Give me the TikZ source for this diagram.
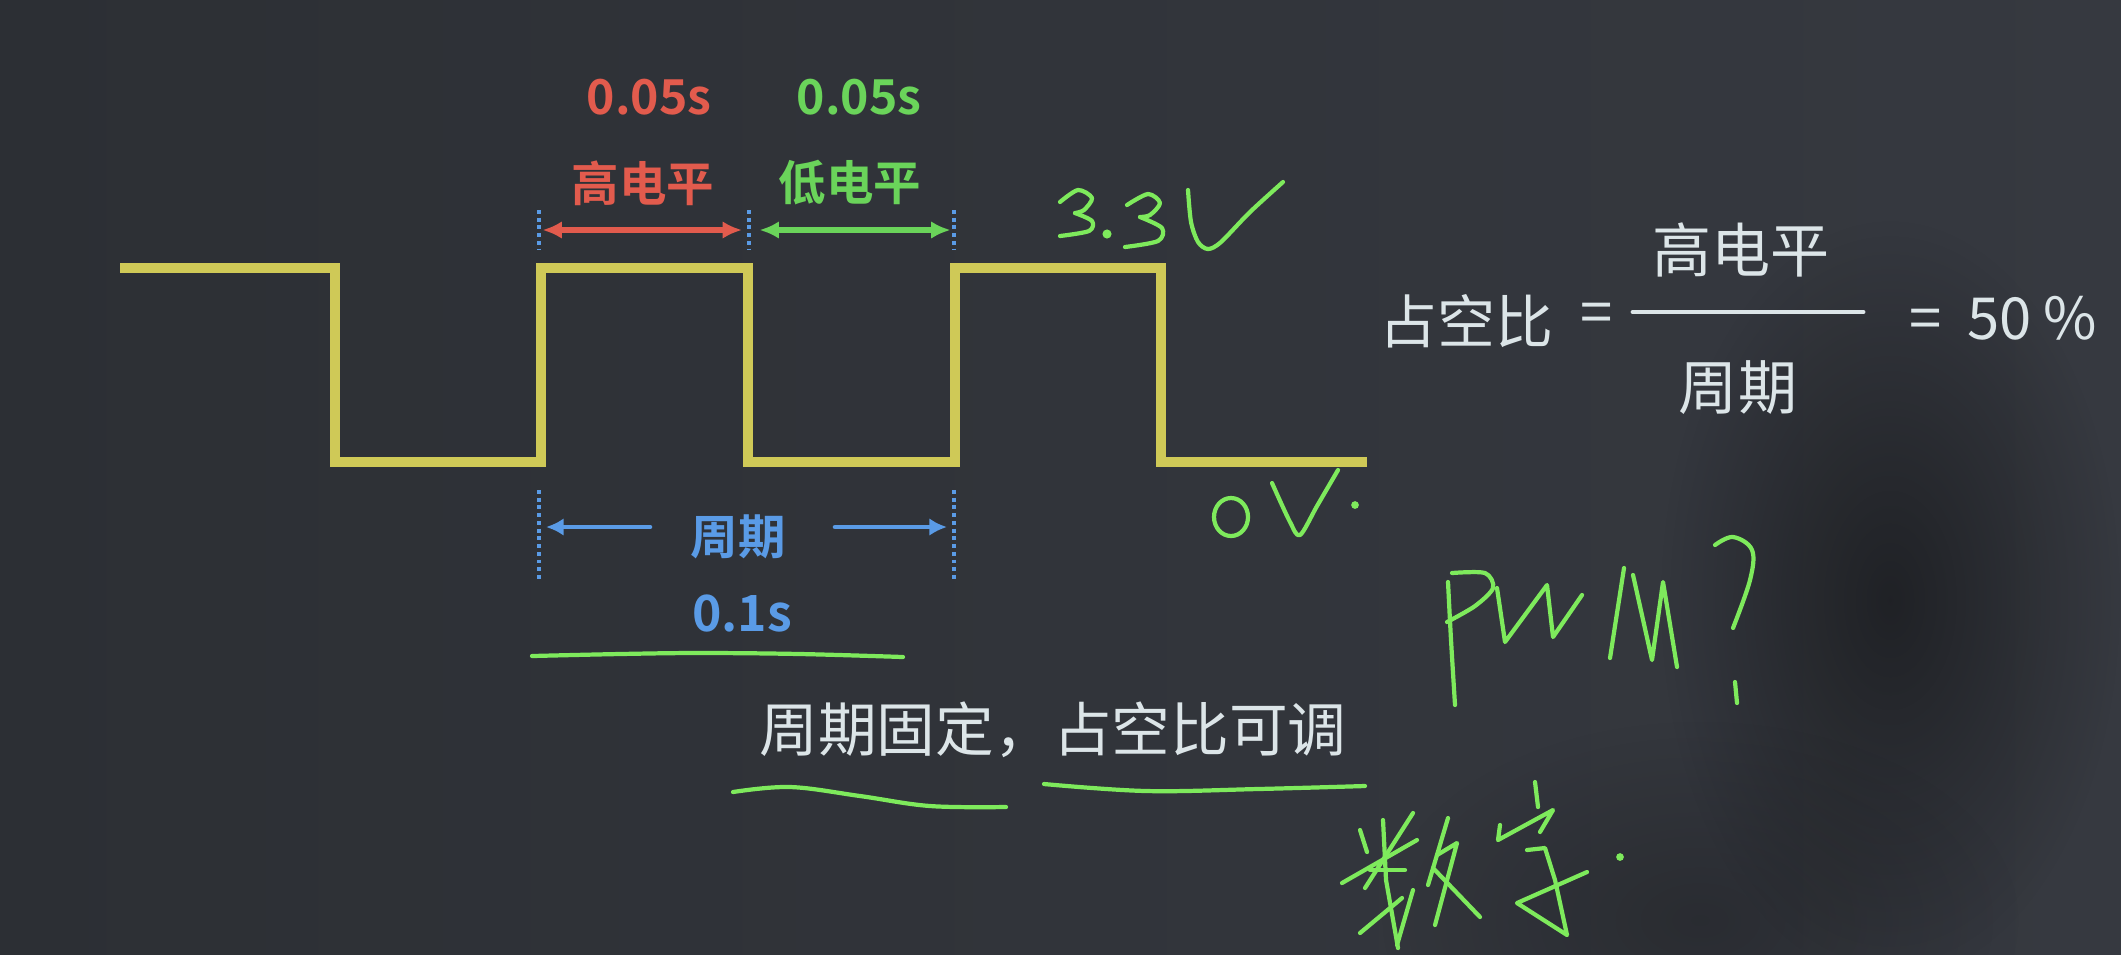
\documentclass[tikz,border=0pt]{standalone}
\usepackage{fontspec}
\setmainfont{Noto Sans CJK SC}[BoldFont={Noto Sans CJK SC Bold}]
\usetikzlibrary{arrows.meta,fadings}
\definecolor{boardBg}{HTML}{2C2F34}
\definecolor{boardBgR}{HTML}{363940}
\definecolor{waveYellow}{HTML}{CFC957}
\definecolor{levelRed}{HTML}{E25B4D}
\definecolor{levelGreen}{HTML}{6AD45A}
\definecolor{periodBlue}{HTML}{5A9BE6}
\definecolor{chalkWhite}{HTML}{DCE5E8}
\definecolor{penGreen}{HTML}{7EEA5C}
\tikzfading[name=softspot, inner color=transparent!0, outer color=transparent!100]
\tikzset{
    wave/.style={draw=waveYellow, line width=2.8pt, line cap=butt, line join=miter},
    tickline/.style={draw=periodBlue, line width=1.2pt, line cap=butt, dash pattern=on 1.1pt off 1.1pt},
    redarrow/.style={levelRed, line width=1.5pt, {Latex[length=5.5pt,width=5pt]}-{Latex[length=5.5pt,width=5pt]}},
    greenarrow/.style={levelGreen, line width=1.5pt, {Latex[length=5.5pt,width=5pt]}-{Latex[length=5.5pt,width=5pt]}},
    bluearrow/.style={periodBlue, line width=1.3pt, -{Latex[length=5pt,width=5pt]}},
    timelbl/.style={font=\bfseries\fontsize{13.7}{16}\selectfont},
    levellbl/.style={font=\bfseries\fontsize{13.5}{16}\selectfont},
    chalk/.style={text=chalkWhite, font=\fontsize{16.5}{19}\selectfont},
    pen/.style={draw=penGreen, line width=1.2pt, line cap=round, line join=round}
}
\begin{document}
\begin{tikzpicture}[x=0.1mm, y=-0.1mm, line cap=round, line join=round]
    \useasboundingbox (0,0) rectangle (2121,954);
    \begin{scope}
        \clip (0,0) rectangle (2121,954);
        \shade[left color=boardBg, right color=boardBgR] (0,0) rectangle (2121,954);
        \fill[black, opacity=0.4, path fading=softspot] (1890,600) ellipse (230 and 380);
        \fill[black, opacity=0.2, path fading=softspot] (1700,920) ellipse (320 and 200);
    \end{scope}

    \draw[wave] (120,268) -- (335,268) -- (335,462) -- (541,462) -- (541,268) -- (748,268) -- (748,462)
        -- (955,462) -- (955,268) -- (1161,268) -- (1161,462) -- (1367,462);

    \foreach \x/\n in {539/a, 749/b, 954/c} {
        \draw[tickline] (\x,210) -- (\x,250);
        \coordinate (top\n) at (\x,230);
    }
    \foreach \x/\n in {539/a, 954/c} {
        \draw[tickline] (\x,490) -- (\x,582);
        \coordinate (bot\n) at (\x,527);
    }
    \coordinate (perL) at (650,527);
    \coordinate (perR) at (835,527);

    \draw[redarrow, shorten <=1pt, shorten >=2pt] (topa) -- (topb);
    \draw[greenarrow, shorten <=3pt, shorten >=1pt] (topb) -- (topc);
    \draw[bluearrow, shorten >=2pt] (perL) -- (bota);
    \draw[bluearrow, shorten >=2pt] (perR) -- (botc);

    \node[timelbl, text=levelRed] (highTime) at (649,97) {0.05s};
    \node[timelbl, text=levelGreen] (lowTime) at (859,97) {0.05s};
    \node[levellbl, text=levelRed] (highLbl) at (643,183) {高电平};
    \node[levellbl, text=levelGreen] (lowLbl) at (850,183) {低电平};
    \node[levellbl, text=periodBlue] (periodLbl) at (738,537) {周期};
    \node[timelbl, text=periodBlue, font=\bfseries\fontsize{14.2}{16}\selectfont] (periodTime) at (742,613) {0.1s};

    \node[chalk] (dutyLbl) at (1466,321) {占空比};
    \node[chalk] (eqA) at (1597,318) {=};
    \node[chalk, font=\fontsize{16.8}{19}\selectfont] (numer) at (1741,250) {高电平};
    \node[chalk, font=\fontsize{16.8}{19}\selectfont] (denom) at (1738,388) {周期};
    \node[chalk, anchor=west] (result) at (1897,318) {=\hspace{0.45em}50\hspace{0.2em}\%};
    \coordinate (fracL) at (1633,312);
    \coordinate (fracR) at (1863,312);
    \draw[chalkWhite, line width=1.4pt] (fracL) -- (fracR);

    \node[chalk, font=\fontsize{16.7}{19}\selectfont] (summary) at (1053,730) {周期固定，占空比可调};

    \draw[pen] plot[smooth, tension=0.6] coordinates {(532,656) (620,654) (700,653) (800,654) (903,657)};
    \draw[pen] plot[smooth, tension=0.6] coordinates {(733,792) (790,787) (860,796) (930,806) (1006,807)};
    \draw[pen] plot[smooth, tension=0.6] coordinates {(1044,784) (1146,791) (1258,789) (1365,786)};

    \draw[pen] plot[smooth, tension=0.5] coordinates {(1060,202) (1078,190) (1092,198) (1084,210) (1075,213)};
    \draw[pen] plot[smooth, tension=0.5] coordinates {(1075,213) (1092,221) (1089,231) (1060,236)};
    \fill[penGreen] (1107,234) circle (1.3pt);
    \draw[pen] plot[smooth, tension=0.5] coordinates {(1127,205) (1148,194) (1160,203) (1150,215) (1140,217)};
    \draw[pen] plot[smooth, tension=0.5] coordinates {(1140,217) (1162,228) (1158,241) (1125,247)};
    \draw[pen] plot[smooth, tension=0.5] coordinates {(1188,190) (1191,222) (1198,242) (1208,249) (1221,242) (1250,212) (1283,182)};

    \draw[pen] (1231,517) ellipse (17 and 19);
    \draw[pen] plot[smooth, tension=0.5] coordinates {(1272,483) (1290,522) (1300,535) (1317,506) (1338,470)};
    \fill[penGreen] (1355,505) circle (1.1pt);

    \draw[pen] plot[smooth, tension=0.5] coordinates {(1448,582) (1451,640) (1455,705)};
    \draw[pen] plot[smooth, tension=0.5] coordinates {(1452,573) (1485,573) (1493,588) (1475,606) (1447,622)};
    \draw[pen] (1497,588) -- (1505,642) -- (1547,585) -- (1553,637) -- (1582,595);
    \draw[pen] (1610,658) -- (1624,568);
    \draw[pen] (1633,575) -- (1652,660) -- (1663,582) -- (1677,667);
    \draw[pen] plot[smooth, tension=0.6] coordinates {(1715,545) (1733,537) (1752,550) (1750,580) (1733,628)};
    \draw[pen] (1735,682) -- (1737,703);

    \draw[pen] (1360,830) -- (1367,852);
    \draw[pen] (1413,813) -- (1365,888);
    \draw[pen] (1342,883) -- (1417,840);
    \draw[pen] (1383,820) -- (1386,880) -- (1398,948);
    \draw[pen] (1370,870) -- (1405,870);
    \draw[pen] (1360,933) -- (1402,898);
    \draw[pen] (1413,890) -- (1397,945);
    \draw[pen] (1448,818) -- (1428,885);
    \draw[pen] (1437,855) -- (1457,843) -- (1435,925);
    \draw[pen] (1433,868) -- (1480,917);
    \draw[pen] (1535,782) -- (1538,807);
    \draw[pen] (1500,825) -- (1498,840) -- (1553,810) -- (1540,832);
    \draw[pen] (1527,850) -- (1545,848) -- (1555,880) -- (1567,935) -- (1517,903) -- (1587,872);
    \fill[penGreen] (1620,857) circle (1.1pt);
\end{tikzpicture}
\end{document}
